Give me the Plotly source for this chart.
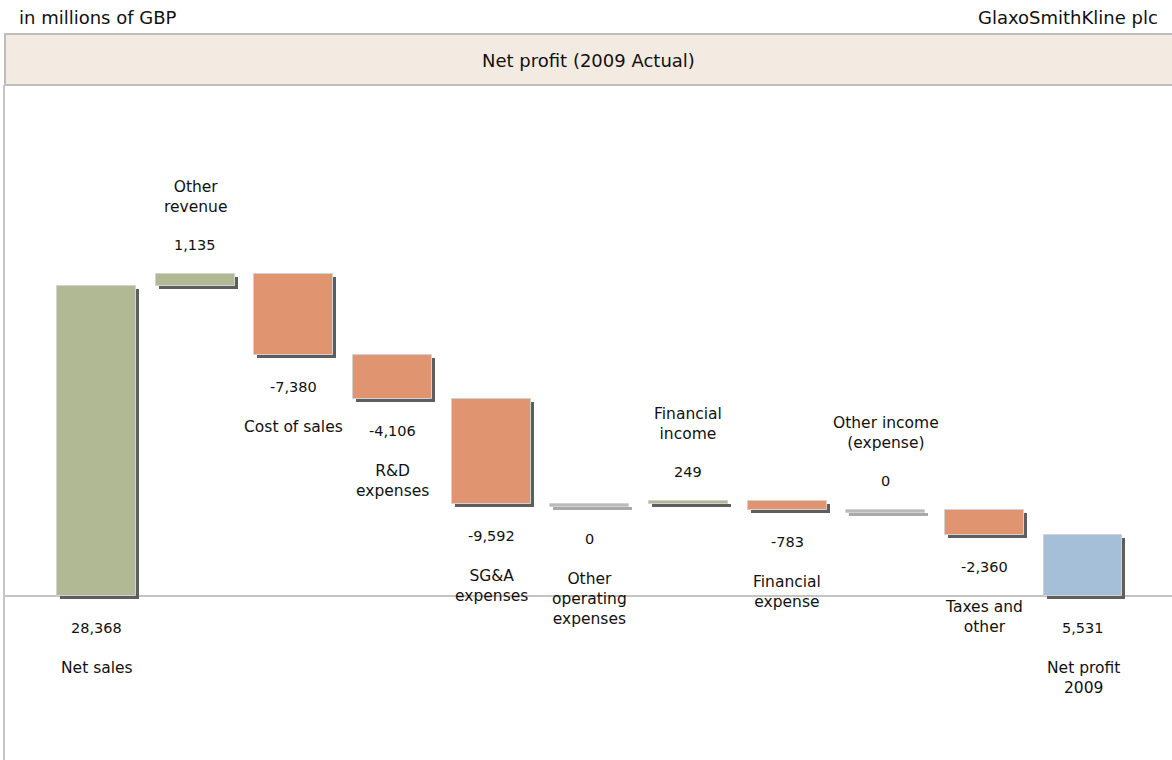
import plotly.graph_objects as go

# Income statement bridge, in millions of GBP
categories = [
    "Net sales", "Other<br>revenue", "Cost of sales", "R&D<br>expenses",
    "SG&A<br>expenses", "Other<br>operating<br>expenses", "Financial<br>income",
    "Financial<br>expense", "Other income<br>(expense)", "Taxes and<br>other",
    "Net profit<br>2009",
]
values = [28368, 1135, -7380, -4106, -9592, 0, 249, -783, 0, -2360, 5531]
is_total = [True, False, False, False, False, False, False, False, False, False, True]
label_side = ["below", "above", "below", "below", "below", "below",
              "above", "below", "above", "below", "below"]

W, H = 1172, 760
PLOT_LEFT, PLOT_TOP = 5, 85          # pixel edges of the chart area
ZERO_PX = 595.5                        # pixel row of the zero line
CAT_PX0, CAT_STEP = 96.5, 98.65        # pixel centre of first bar, bar spacing
UNITS_PER_PX = 91.8

GREEN = "#B1B894"
SALMON = "#E0946F"
BLUE = "#A4BFD7"
ZERO_GREY = "#BBBBBB"
SHADOW = "#5E5E5E"

# waterfall geometry
bases, heights, colors, shadow_colors = [], [], [], []
running = 0
min_h = 3 * UNITS_PER_PX
for i, v in enumerate(values):
    if is_total[i]:
        base, h = 0, v
        running = v
        col = BLUE if i == len(values) - 1 else GREEN
        scol = SHADOW
    else:
        if v >= 0:
            base, h = running, v
        else:
            base, h = running + v, -v
        running += v
        if v == 0:
            base, h = running - min_h, min_h
            col, scol = ZERO_GREY, "#A9A9A9"
        else:
            col = GREEN if v > 0 else SALMON
            scol = SHADOW
    bases.append(base)
    heights.append(h)
    colors.append(col)
    shadow_colors.append(scol)

x_idx = list(range(len(values)))
bar_w = 0.8
sh_dx = 3 / CAT_STEP
sh_dy = 3 * UNITS_PER_PX

fig = go.Figure()
fig.add_trace(go.Bar(
    x=x_idx, y=heights, base=[b - sh_dy for b in bases],
    width=bar_w, offset=-bar_w / 2 + sh_dx,
    marker=dict(color=shadow_colors, line=dict(width=0)),
    hoverinfo="skip", showlegend=False,
))
fig.add_trace(go.Bar(
    x=x_idx, y=heights, base=bases,
    width=bar_w, offset=-bar_w / 2,
    marker=dict(color=colors, line=dict(color="#D2D2D2", width=1)),
    showlegend=False,
))

font_val = dict(family="DejaVu Sans", size=14.5, color="#111111")
font_cat = dict(family="DejaVu Sans", size=15.5, color="#111111")

for i, v in enumerate(values):
    top = bases[i] + heights[i]
    bot = bases[i]
    if label_side[i] == "above":
        fig.add_annotation(x=i, y=top, text=f"{v:,}", showarrow=False,
                           xref="x", yref="y", yanchor="middle", yshift=29,
                           font=font_val)
        fig.add_annotation(x=i, y=top, text=categories[i], showarrow=False,
                           xref="x", yref="y", yanchor="bottom", yshift=56,
                           font=font_cat)
    else:
        fig.add_annotation(x=i, y=bot, text=f"{v:,}", showarrow=False,
                           xref="x", yref="y", yanchor="middle", yshift=-32,
                           font=font_val)
        fig.add_annotation(x=i, y=bot, text=categories[i], showarrow=False,
                           xref="x", yref="y", yanchor="top", yshift=-61,
                           font=font_cat)

x_lo = (PLOT_LEFT - CAT_PX0) / CAT_STEP
x_hi = (W - CAT_PX0) / CAT_STEP
y_hi = (ZERO_PX - PLOT_TOP) * UNITS_PER_PX
y_lo = -(H - ZERO_PX) * UNITS_PER_PX

# header band
fig.add_shape(type="rect", xref="paper", yref="paper",
              x0=PLOT_LEFT / W, x1=1.002, y0=1 - PLOT_TOP / H, y1=1 - 34 / H,
              fillcolor="#F3EBE1", line=dict(color="#BDBDBD", width=2), layer="below")
header_font = dict(family="DejaVu Sans", size=18, color="#111111")
fig.add_annotation(x=588 / W, y=1 - 60 / H, xref="paper", yref="paper",
                   xanchor="center", yanchor="middle",
                   text="Net profit (2009 Actual)", showarrow=False, font=header_font)
fig.add_annotation(x=17 / W, y=1 - 17 / H, xref="paper", yref="paper",
                   xanchor="left", yanchor="middle",
                   text="in millions of GBP", showarrow=False, font=header_font)
fig.add_annotation(x=1160 / W, y=1 - 17 / H, xref="paper", yref="paper",
                   xanchor="right", yanchor="middle",
                   text="GlaxoSmithKline plc", showarrow=False, font=header_font)

fig.update_layout(
    width=W, height=H, margin=dict(l=0, r=0, t=0, b=0),
    paper_bgcolor="white", plot_bgcolor="white",
    barmode="overlay", bargap=0,
    xaxis=dict(domain=[PLOT_LEFT / W, 1], range=[x_lo, x_hi],
               showgrid=False, zeroline=False, showticklabels=False,
               ticks="", showline=False),
    yaxis=dict(domain=[0, 1 - PLOT_TOP / H], range=[y_lo, y_hi],
               showgrid=False, zeroline=True, zerolinecolor="#C4C4C4",
               zerolinewidth=1.5, showticklabels=False, ticks="",
               showline=True, linecolor="#C4C4C4", linewidth=2),
)

fig.write_html("out.html")
